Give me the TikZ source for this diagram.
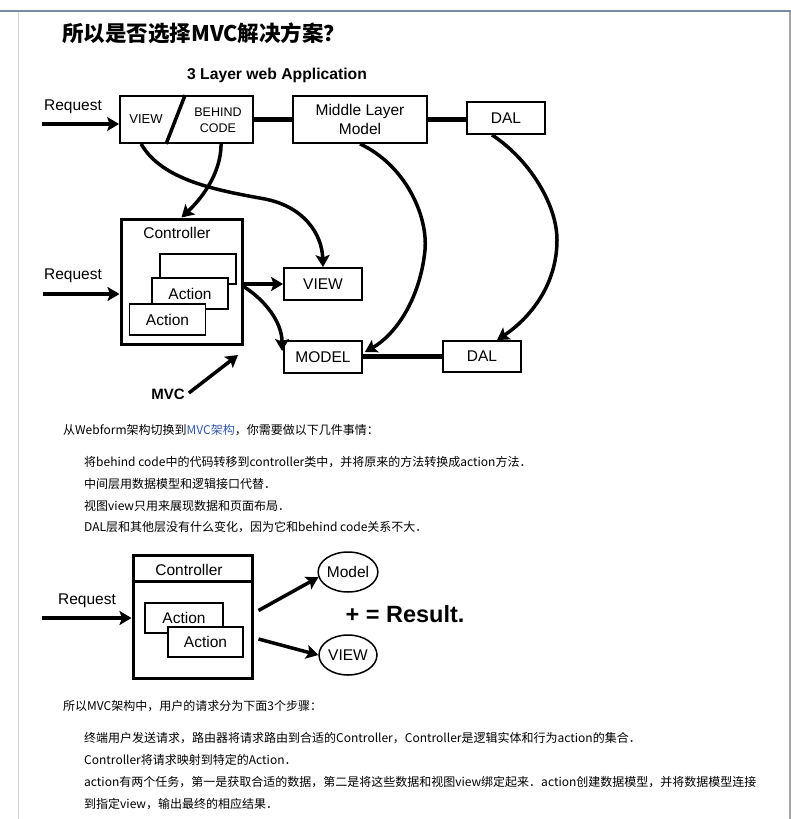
\documentclass[tikz,border=0pt]{standalone}
\usepackage{fontspec}
\setmainfont{Liberation Sans}
\newfontfamily\cjk{Noto Sans CJK SC}
\usetikzlibrary{arrows.meta,calc,positioning,shapes.geometric}
\definecolor{linkblue}{RGB}{51,85,170}
\definecolor{topbar}{RGB}{120,138,160}

\tikzset{
	box/.style={draw, line width=1.8pt, fill=white, inner sep=0pt, align=center, font=\fontsize{15.5}{19}\selectfont},
	bigbox/.style={draw, line width=3pt, inner sep=0pt},
	ell/.style={draw, ellipse, line width=1.5pt, fill=white, inner sep=0pt, minimum width=58, minimum height=40, font=\fontsize{15.5}{19}\selectfont},
	lbl/.style={inner sep=0pt, font=\fontsize{15.5}{19}\selectfont},
	para/.style={anchor=west, inner sep=0pt, font=\cjk\fontsize{12}{14}\selectfont},
	arr/.style={line width=3.5pt, -{Stealth[length=12pt,width=14pt,inset=2.5pt]}},
	bar/.style={line width=4.5pt}
}

\begin{document}
\begin{tikzpicture}[x=1pt,y=-1pt]
	\useasboundingbox (0,0) rectangle (791,819);
	% page frame
	\draw[topbar, line width=2.5pt] (0,11) -- (791,11);
	\draw[gray!35, line width=1.5pt] (18.5,12) -- (18.5,819);
	\draw[gray!70, line width=1.5pt] (790,12) -- (790,819);
	
	\node[anchor=west, inner sep=0pt, font=\cjk\bfseries\fontsize{21.5}{24}\selectfont] (title) at (62,33) {所以是否选择MVC解决方案？};
	
	% 3 layer web application
	\node[lbl, font=\bfseries\fontsize{15.7}{19}\selectfont] (head) at (277,75) {3 Layer web Application};
	\node[box, minimum width=133, minimum height=47] (web) at (186.5,119.5) {};
	\node[lbl, font=\fontsize{13}{15}\selectfont] (webview) at (146,119) {VIEW};
	\node[lbl, font=\fontsize{12.5}{16}\selectfont, align=center] (webcode) at (218,120) {BEHIND\\CODE};
	\draw[line width=3.5pt] ($(web.north west)+(66,0)$) -- ($(web.south west)+(47,0)$);
	\node[box, minimum width=134, minimum height=47] (mid) at (360,119.5) {Middle Layer\\Model};
	\node[box, minimum width=78, minimum height=32] (dal) at (506,118) {DAL};
	\draw[bar] (web) -- (mid);
	\draw[bar] (mid.east) -- (mid.east -| dal.west);
	
	\node[lbl] (req) at (73,107) {Request};
	\coordinate (reqin) at (42,124);
	\draw[arr, line width=4.5pt] (reqin) -- (reqin -| web.west);
	
	\node[bigbox, minimum width=121, minimum height=125] (ctrl) at (181.5,281.5) {};
	\node[lbl] (ctrltxt) at (177,233) {Controller};
	\foreach \x/\y/\t [count=\i] in {198/269/{},190/293.5/Action,167.5/319.5/Action}
		\node[box, minimum width=76, minimum height=30.5] (act\i) at (\x,\y) {\t};
	
	\node[box, minimum width=78, minimum height=32] (view) at (323,284) {VIEW};
	\node[box, minimum width=78, minimum height=32] (model) at (323,357) {MODEL};
	\node[box, minimum width=78, minimum height=31] (dalb) at (482,356.5) {DAL};
	\draw[bar] (dalb.west) -- (dalb.west -| model.east);
	
	\node[lbl] (req2) at (73,276) {Request};
	\coordinate (req2in) at (43,294);
	\draw[arr, line width=4.5pt] (req2in) -- (req2in -| ctrl.west);
	
	\draw[arr] ($(web.south west)+(22,0)$) .. controls (162,180) and (215,190) .. (265,199)
		.. controls (305,207) and (322,235) .. (view.north);
	\draw[arr] ($(web.south west)+(102,0)$) .. controls (221,175) and (200,200) .. (ctrl.north);
	\draw[arr] (ctrl.east |- view) -- (view.west);
	\draw[arr] ($(ctrl.east)+(0,5)$) .. controls (265,300) and (282,322) .. ($(model.west)+(-1,-6)$);
	\draw[arr] (mid.south) .. controls (405,165) and (428,215) .. (425,250)
		.. controls (420,300) and (395,335) .. ($(model.east)+(2,-5)$);
	\draw[arr] ($(dal.south)+(-14,0)$) .. controls (530,160) and (557,205) .. (557,240)
		.. controls (557,285) and (530,318) .. ($(dalb.north)+(15,0)$);
	
	\node[lbl, font=\bfseries\fontsize{15}{18}\selectfont] (mvc) at (168,394) {MVC};
	\coordinate (mvcto) at (238,355);
	\draw[arr] ($(mvc.east)+(4,-1)$) -- (mvcto);
	
	% webform -> mvc
	\node[para] (intro) at (63,430) {从Webform架构切换到\textcolor{linkblue}{MVC架构}，你需要做以下几件事情：};
	\foreach \y/\t [count=\i] in {462/{将behind code中的代码转移到controller类中，并将原来的方法转换成action方法．},
		484/{中间层用数据模型和逻辑接口代替．},
		506/{视图view只用来展现数据和页面布局．},
		527/{DAL层和其他层没有什么变化，因为它和behind code关系不大．}}
		\node[para] (todo\i) at (84,\y) {\t};
	
	% mvc request
	\node[bigbox, minimum width=119, minimum height=123] (ctrlb) at (192.5,616.5) {};
	\draw[line width=3pt] ($(ctrlb.north west)+(0,28)$) -- ($(ctrlb.north east)+(0,28)$);
	\node[lbl] (ctrlbtxt) at (189,570) {Controller};
	\node[box, minimum width=78, minimum height=30] (acta) at (184,618) {Action};
	\node[box, minimum width=75, minimum height=30] (actb) at (205.5,642) {Action};
	\node[lbl] (req3) at (87,601) {Request};
	\coordinate (req3in) at (42,618);
	\draw[arr, line width=4.5pt] (req3in) -- (req3in -| ctrlb.west);
	\node[ell] (modelb) at (348,572) {Model};
	\node[ell] (viewb) at (348,655) {VIEW};
	\draw[arr] ($(ctrlb.east)+(5,-6)$) -- (modelb.190);
	\draw[arr] ($(ctrlb.east)+(5,22.5)$) -- (viewb.west);
	\node[lbl, font=\bfseries\fontsize{23.5}{28}\selectfont] (result) at (405,614) {+ = Result.};
	
	\node[para] (steps) at (63,706) {所以MVC架构中，用户的请求分为下面3个步骤：};
	\foreach \y/\t [count=\i] in {738/{终端用户发送请求，路由器将请求路由到合适的Controller，Controller是逻辑实体和行为action的集合．},
		760/{Controller将请求映射到特定的Action．},
		782/{action有两个任务，第一是获取合适的数据，第二是将这些数据和视图view绑定起来．action创建数据模型，并将数据模型连接},
		804/{到指定view，输出最终的相应结果．}}
		\node[para] (step\i) at (84,\y) {\t};
\end{tikzpicture}
\end{document}
